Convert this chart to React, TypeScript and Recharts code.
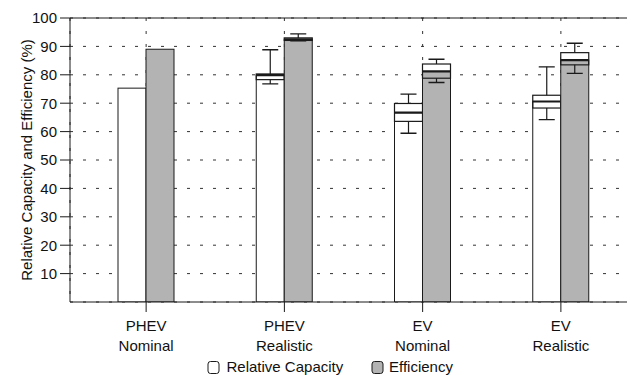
import React from 'react';
import { BarChart, Bar, XAxis, YAxis, CartesianGrid, Legend, ReferenceLine } from 'recharts';

const categories = ['PHEV Nominal', 'PHEV Realistic', 'EV Nominal', 'EV Realistic'];
const labelTop = ['PHEV', 'PHEV', 'EV', 'EV'];
const labelBottom = ['Nominal', 'Realistic', 'Nominal', 'Realistic'];

const capacityMedian = [75.3, 79.9, 66.7, 70.6];
const capacityQ1 = [null, 78.3, 63.6, 68.3];
const capacityQ3 = [null, 80.3, 69.9, 72.8];
const capacityMin = [null, 76.8, 59.4, 64.2];
const capacityMax = [null, 88.8, 73.2, 82.8];

const efficiencyMedian = [89.0, 92.5, 81.2, 85.2];
const efficiencyQ1 = [null, 92.1, 78.8, 83.5];
const efficiencyQ3 = [null, 93.0, 83.8, 87.8];
const efficiencyMin = [null, 92.0, 77.3, 80.5];
const efficiencyMax = [null, 94.4, 85.5, 91.1];

const yTicks = [10, 20, 30, 40, 50, 60, 70, 80, 90, 100];

const data = categories.map((c, i) => ({
  name: c,
  top: labelTop[i],
  bottom: labelBottom[i],
  cap: capacityMedian[i],
  capQ1: capacityQ1[i],
  capQ3: capacityQ3[i],
  capMin: capacityMin[i],
  capMax: capacityMax[i],
  eff: efficiencyMedian[i],
  effQ1: efficiencyQ1[i],
  effQ3: efficiencyQ3[i],
  effMin: efficiencyMin[i],
  effMax: efficiencyMax[i],
}));

const INK = '#1a1a1a';
const GRAY = '#b3b3b3';
const FONT = '"Liberation Sans", Arial, Helvetica, sans-serif';

const makeShape = (fill: string, prefix: string) => (props: any) => {
  const { x, y, width, height, payload } = props;
  const med = payload[prefix];
  const q1 = payload[prefix + 'Q1'];
  const q3 = payload[prefix + 'Q3'];
  const mn = payload[prefix + 'Min'];
  const mx = payload[prefix + 'Max'];
  const base = y + height;
  const k = height / med;
  const py = (v: number) => base - v * k;
  const cx = x + width / 2;
  const capW = 16;
  const hasBox = q1 != null && q3 != null;
  return (
    <g>
      <rect x={x} y={y} width={width} height={height} fill={fill} stroke={INK} strokeWidth={1} />
      {hasBox && (
        <g>
          {q3 > med && (
            <rect x={x} y={py(q3)} width={width} height={py(med) - py(q3)} fill="#fff" stroke="none" />
          )}
          <rect x={x} y={py(q3)} width={width} height={py(q1) - py(q3)} fill="none" stroke={INK} strokeWidth={1.2} />
          <line x1={x} x2={x + width} y1={py(med)} y2={py(med)} stroke={INK} strokeWidth={2.2} />
          <line x1={cx} x2={cx} y1={py(q3)} y2={py(mx)} stroke={INK} strokeWidth={1.2} />
          <line x1={cx - capW / 2} x2={cx + capW / 2} y1={py(mx)} y2={py(mx)} stroke={INK} strokeWidth={1.4} />
          <line x1={cx} x2={cx} y1={py(q1)} y2={py(mn)} stroke={INK} strokeWidth={1.2} />
          <line x1={cx - capW / 2} x2={cx + capW / 2} y1={py(mn)} y2={py(mn)} stroke={INK} strokeWidth={1.4} />
        </g>
      )}
    </g>
  );
};

const XTick = (props: any) => {
  const { x, y, payload, index } = props;
  const i = index != null ? index : categories.indexOf(payload.value);
  return (
    <g>
      <text x={x} y={y + 16.5} textAnchor="middle" fontSize={15} fill="#111" fontFamily={FONT}>
        {labelTop[i]}
      </text>
      <text x={x} y={y + 36.5} textAnchor="middle" fontSize={15} fill="#111" fontFamily={FONT}>
        {labelBottom[i]}
      </text>
    </g>
  );
};

const YLabel = (props: any) => {
  const vb = props.viewBox || { x: 0, y: 18, width: 70, height: 284 };
  const cy = vb.y + vb.height / 2;
  const lx = 32;
  return (
    <text
      x={lx}
      y={cy}
      transform={`rotate(-90, ${lx}, ${cy})`}
      textAnchor="middle"
      fontSize={15}
      fill="#111"
      fontFamily={FONT}
    >
      Relative Capacity and Efficiency (%)
    </text>
  );
};

const renderLegend = () => (
  <svg width={627} height={24} style={{ display: 'block' }}>
    <rect x={208} y={9.5} width={11} height={12} rx={2.5} fill="#fff" stroke={INK} strokeWidth={1} />
    <text x={226.5} y={20} fontSize={15} fill="#111" fontFamily={FONT}>
      Relative Capacity
    </text>
    <rect x={372} y={9.5} width={11} height={12} rx={2.5} fill={GRAY} stroke={INK} strokeWidth={1} />
    <text x={389} y={20} fontSize={15} fill="#111" fontFamily={FONT}>
      Efficiency
    </text>
  </svg>
);

export default function App() {
  return (
    <div
      style={{
        position: 'absolute',
        left: 0,
        top: 0,
        width: 627,
        height: 376,
        overflow: 'hidden',
        background: '#fff',
        fontFamily: FONT,
      }}
    >
      <BarChart
        width={631}
        height={376}
        data={data}
        margin={{ top: 18, right: 0, bottom: 0, left: 0 }}
        barGap={0}
        barSize={28}
      >
        <CartesianGrid stroke="#333" strokeDasharray="3 10" strokeWidth={1} />
        <XAxis
          dataKey="name"
          height={50}
          padding={{ left: 7, right: 1 }}
          tick={<XTick />}
          tickSize={10}
          tickMargin={2}
          axisLine={{ stroke: INK, strokeWidth: 1 }}
          tickLine={{ stroke: INK, strokeWidth: 1 }}
          interval={0}
        />
        <YAxis
          width={70}
          domain={[0, 100]}
          ticks={yTicks}
          tickSize={10}
          tickMargin={3}
          axisLine={{ stroke: INK, strokeWidth: 1 }}
          tickLine={{ stroke: INK, strokeWidth: 1 }}
          tick={{ fontSize: 15, fill: '#111', fontFamily: FONT }}
          label={<YLabel />}
          allowDataOverflow
        />
        <ReferenceLine y={100} stroke={INK} strokeWidth={1} />
        <Legend verticalAlign="bottom" height={24} content={renderLegend} />
        <Bar dataKey="cap" name="Relative Capacity" fill="#fff" shape={makeShape('#fff', 'cap')} isAnimationActive={false} />
        <Bar dataKey="eff" name="Efficiency" fill={GRAY} shape={makeShape(GRAY, 'eff')} isAnimationActive={false} />
      </BarChart>
    </div>
  );
}
